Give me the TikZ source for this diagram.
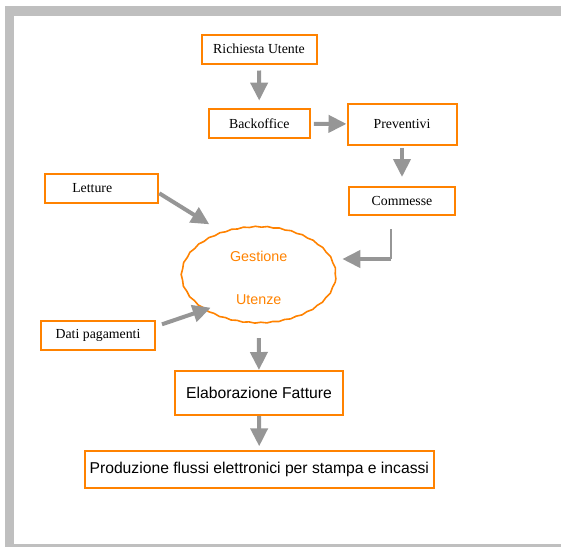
\documentclass[tikz,border=0pt]{standalone}
\usepackage{fontspec}
\setmainfont{Liberation Serif}
\newfontfamily\arialfont{Liberation Sans}
\usetikzlibrary{arrows.meta,shapes.geometric,decorations.pathmorphing}
\definecolor{arancio}{RGB}{255,130,0}
\definecolor{grigio}{RGB}{150,150,150}
\definecolor{cornice}{RGB}{191,191,191}
\begin{document}
\begin{tikzpicture}[x=1pt, y=-1pt,
            casella/.style={draw=arancio, line width=2pt, inner sep=0pt, font=\fontsize{13.8}{16}\selectfont},
            casellasans/.style={casella, font=\arialfont\fontsize{15.7}{18}\selectfont},
            nuvola/.style={shape=ellipse, draw=arancio, line width=1.6pt, inner sep=0pt,
                decorate, decoration={snake, segment length=12pt, amplitude=0.45pt},
                text=arancio, align=center, font=\arialfont\fontsize{14.3}{42.6}\selectfont},
            freccia/.style={draw=grigio, line width=4pt, -{Triangle[width=17pt, length=18pt]}},
            filo/.style={draw=grigio, line width=2pt},
        ]
        \useasboundingbox (0,0) rectangle (561,547);
        % cornice
        \fill[cornice] (5,6) rectangle (561,16);
        \fill[cornice] (5,6) rectangle (14,547);
        \fill[cornice] (5,543.5) rectangle (561,547);

        \node[casella, minimum width=115pt, minimum height=29pt] (ric) at (259, 49) {Richiesta Utente};
        \node[casella, minimum width=101pt, minimum height=29pt] (bo) at (259.3, 123.7) {Backoffice};
        \node[casella, minimum width=109pt, minimum height=41pt] (prev) at (402, 124) {Preventivi};
        \node[casella, minimum width=106pt, minimum height=28pt] (com) at (402, 201) {Commesse};
        \node[casella, minimum height=29pt, text width=59pt, align=left, inner xsep=27pt] (let) at (101.8, 188.3) {Letture};
        \node[casella, minimum width=114pt, minimum height=29pt] (dat) at (98, 335.3) {Dati pagamenti};
        \node[nuvola, minimum width=154pt, minimum height=96pt] (gu) at (258.7, 277.7) {Gestione\\Utenze};
        \node[casellasans, minimum width=168pt, minimum height=44pt] (elab) at (259, 393) {Elaborazione Fatture};
        \node[casellasans, minimum width=349pt, minimum height=37pt] (prod) at (259.3, 469.5) {Produzione flussi elettronici per stampa e incassi};

        % punte libere verso la gestione utenze
        \coordinate (gu-no) at (209.3, 224.3);
        \coordinate (gu-so) at (210.7, 307.7);
        \coordinate (gu-e) at (342.3, 259);
        \coordinate (com-ang) at (391, 259);

        \draw[freccia, shorten <=6pt, shorten >=7.6pt] (ric) -- (bo);
        \draw[freccia, shorten <=3pt] (bo) -- (prev);
        \draw[freccia, shorten <=2.4pt, shorten >=9pt] (prev) -- (com);
        \draw[freccia] ([yshift=-5pt]let.east) -- (gu-no);
        \draw[filo] ([xshift=-11pt, yshift=-13.3pt]com.south) -- (com-ang);
        \draw[freccia] (com-ang) -- (gu-e);
        \draw[freccia] ([xshift=6pt, yshift=11pt]dat.east) -- (gu-so);
        \draw[freccia, shorten <=11.7pt] (gu) -- (elab);
        \draw[freccia, shorten >=3.7pt] (elab) -- (prod);

    \end{tikzpicture}
\end{document}
